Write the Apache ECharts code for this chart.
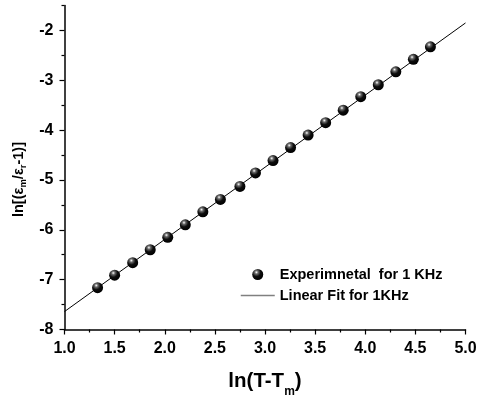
<!DOCTYPE html>
<html>
<head>
<meta charset="utf-8">
<script src="https://cdn.jsdelivr.net/npm/echarts@6/dist/echarts.min.js"></script>
<style>
  html, body { margin: 0; padding: 0; background: #fff; }
  #chart { width: 479px; height: 396px; }
</style>
</head>
<body>
<div id="chart"></div>
<script>
// measured points, ln(T-Tm) vs ln(em/er - 1)
const lnT = [1.33, 1.50, 1.68, 1.855, 2.03, 2.205, 2.38, 2.555, 2.75, 2.905, 3.08, 3.255, 3.43, 3.605, 3.78, 3.955, 4.13, 4.305, 4.48, 4.65]
const lnEps = [-7.16, -6.91, -6.66, -6.40, -6.15, -5.90, -5.64, -5.39, -5.13, -4.86, -4.61, -4.35, -4.10, -3.85, -3.60, -3.33, -3.09, -2.83, -2.58, -2.33]

// linear fit endpoints
const fitX = [1.0, 5.0]
const fitY = [-7.64, -1.85]

const yMajor = [-8, -7, -6, -5, -4, -3, -2]
const yMinor = [-7.5, -6.5, -5.5, -4.5, -3.5, -2.5, -1.5]

const font = "'Liberation Sans', Arial, sans-serif"

const chart = echarts.init(document.getElementById("chart"))

const ball = new echarts.graphic.RadialGradient(0.38, 0.3, 0.7, [
  { offset: 0, color: "#ffffff" },
  { offset: 0.22, color: "#6a6a6a" },
  { offset: 0.55, color: "#0d0d0d" },
  { offset: 1, color: "#000000" },
])

const tickLabel = { color: "#000", fontFamily: font, fontWeight: "bold", fontSize: 16 }

chart.setOption({
  animation: false,
  backgroundColor: "#fff",
  grid: { left: 64.5, right: 13.5, top: 5.5, bottom: 66.5, containLabel: false, outerBoundsMode: "none" },
  legend: {
    orient: "vertical",
    left: 235,
    top: 262,
    itemWidth: 34,
    itemHeight: 11,
    itemGap: 6,
    textStyle: { color: "#000", fontFamily: font, fontWeight: "bold", fontSize: 14.5 },
    data: [
      { name: "Experimnetal  for 1 KHz" },
      {
        name: "Linear Fit for 1KHz",
        lineStyle: { color: "#808080", width: 1.5 },
        itemStyle: { color: "transparent", borderWidth: 0 },
      },
    ],
  },
  xAxis: {
    type: "value",
    min: 1,
    max: 5,
    interval: 0.5,
    name: "ln(T-T{s|m})",
    nameLocation: "middle",
    nameGap: 40,
    nameTextStyle: {
      color: "#000", fontFamily: font, fontWeight: "bold", fontSize: 20.5, lineHeight: 24,
      rich: { s: { fontFamily: font, fontWeight: "bold", fontSize: 12, lineHeight: 24, verticalAlign: "bottom", padding: [0, 0, -4, 0] } },
    },
    axisLine: { lineStyle: { color: "#000", width: 1.5 } },
    axisTick: { length: 5, lineStyle: { color: "#000", width: 1.2 } },
    minorTick: { show: true, splitNumber: 2, length: 3, lineStyle: { color: "#000", width: 1.2 } },
    axisLabel: { ...tickLabel, margin: 11, formatter: (v) => v.toFixed(1) },
    splitLine: { show: false },
  },
  yAxis: [
    {
      type: "value",
      min: -8,
      max: -1.5,
      interval: 1,
      name: "ln[(ε{s|m}/ε{s|r}-1)]",
      nameLocation: "middle",
      nameGap: 36,
      nameTextStyle: {
        color: "#000", fontFamily: font, fontWeight: "bold", fontSize: 14.5, lineHeight: 19,
        padding: [0, 24, 0, 0],
        rich: { s: { fontFamily: font, fontWeight: "bold", fontSize: 9.5, lineHeight: 19, verticalAlign: "bottom" } },
      },
      axisLine: { onZero: false, lineStyle: { color: "#000", width: 1.5 } },
      axisTick: { length: 5, customValues: yMajor, lineStyle: { color: "#000", width: 1.2 } },
      axisLabel: { ...tickLabel, margin: 11, customValues: yMajor },
      splitLine: { show: false },
    },
    {
      type: "value",
      min: -8,
      max: -1.5,
      position: "left",
      axisLine: { show: false },
      axisTick: { show: true, length: 3, customValues: yMinor, lineStyle: { color: "#000", width: 1.2 } },
      axisLabel: { show: false },
      splitLine: { show: false },
    },
  ],
  series: [
    {
      name: "Linear Fit for 1KHz",
      type: "line",
      symbol: "none",
      data: fitX.map((x, i) => [x, fitY[i]]),
      lineStyle: { color: "#000", width: 1 },
      itemStyle: { color: "#000" },
      z: 2,
    },
    {
      name: "Experimnetal  for 1 KHz",
      type: "scatter",
      symbolSize: 11,
      data: lnT.map((x, i) => [x, lnEps[i]]),
      itemStyle: { color: ball, opacity: 1 },
      z: 3,
    },
  ],
})
</script>
</body>
</html>
